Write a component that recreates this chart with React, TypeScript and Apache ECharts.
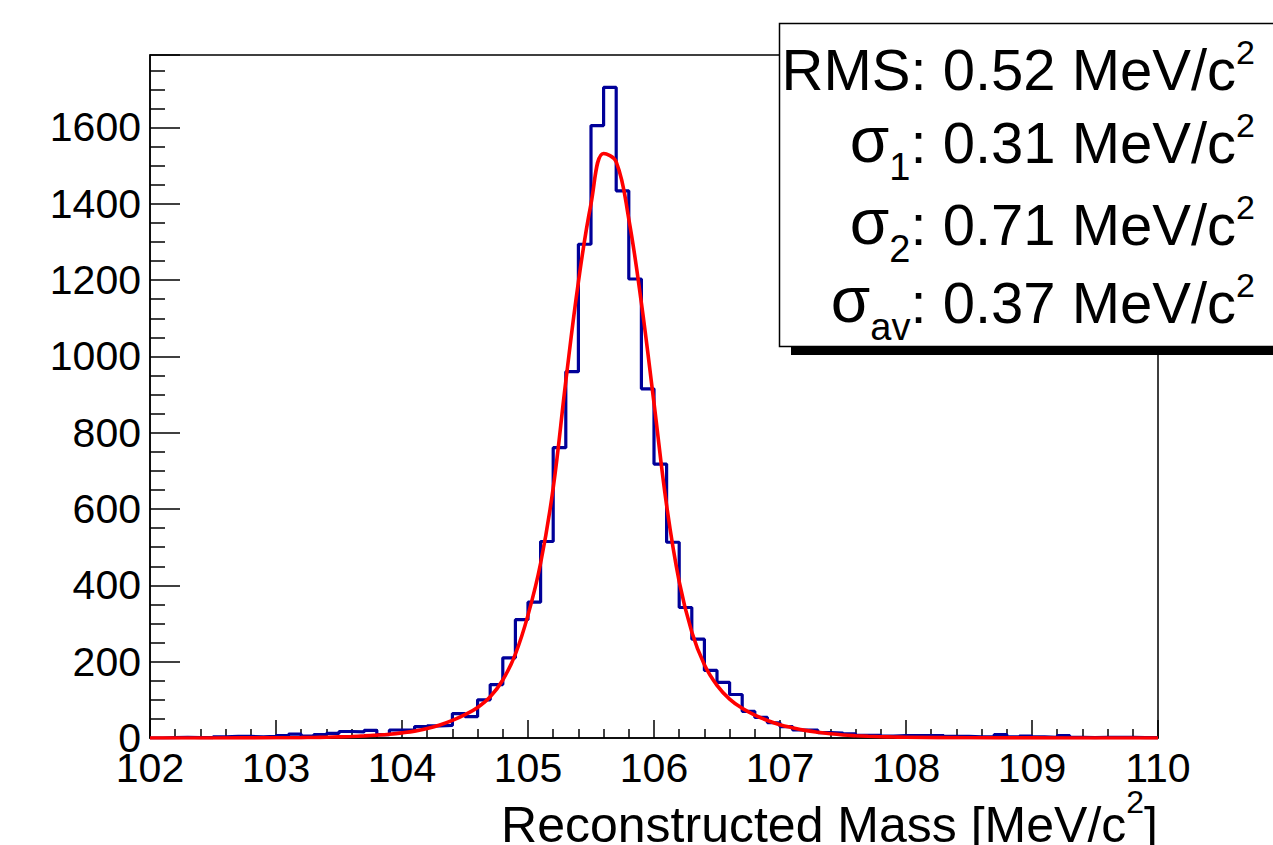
import React, { useEffect, useRef } from "react";
import * as echarts from "echarts";

const FONT = '"Liberation Sans", Arial, Helvetica, sans-serif';

const xMin = 102;
const xMax = 110;
const binWidth = 0.1;
const yMax = 1790;

// histogram bin contents, bins of 0.1 from 102.0 to 110.0
const counts = [
  0, 1, 2, 1, 1, 3, 4, 4, 3, 4,
  6, 10, 5, 9, 12, 17, 16, 20, 9, 21,
  21, 30, 32, 33, 64, 56, 100, 140, 210, 310,
  356, 515, 761, 960, 1294, 1605, 1705, 1434, 1203, 915,
  718, 513, 342, 259, 177, 146, 114, 70, 54, 40,
  30, 21, 21, 14, 13, 11, 7, 7, 5, 6,
  6, 6, 6, 4, 4, 3, 3, 9, 3, 5,
  3, 2, 6, 2, 1, 2, 2, 2, 1, 1,
];

// fitted curve
const fitX = [
  102.0, 102.5, 103.0, 103.1, 103.2, 103.3, 103.4, 103.5, 103.6, 103.7, 103.8, 103.9,
  104.0, 104.1, 104.2, 104.3, 104.4, 104.5, 104.6, 104.7, 104.8, 104.9,
  105.0, 105.1, 105.2, 105.3, 105.4, 105.5, 105.6, 105.7, 105.8, 105.9,
  106.0, 106.1, 106.2, 106.3, 106.4, 106.5, 106.6, 106.7, 106.8, 106.9,
  107.0, 107.1, 107.2, 107.3, 107.4, 107.5, 107.6, 107.7, 107.8, 107.9,
  108.0, 108.5, 109.0, 110.0,
];
const fitY = [
  0, 0.1, 0.5, 0.7, 1, 1.5, 2, 3, 4, 5.5, 7.5, 10,
  13.5, 18, 25, 34, 46, 61, 80, 108, 152, 220,
  322, 458, 655, 935, 1195, 1400, 1532, 1510, 1360, 1140,
  878, 610, 410, 278, 192, 138, 102, 78, 60, 46,
  35, 27, 20, 15, 11, 8, 6, 4.5, 3.3, 2.5,
  1.8, 0.5, 0.2, 0,
];

const statNames = ["RMS", "σ", "σ", "σ"];
const statSubs = ["", "1", "2", "av"];
const statValues = ["0.52", "0.31", "0.71", "0.37"];
const statUnit = "MeV/c";
const statBaselines = [90, 163, 245, 323];

const xTitle = "Reconstructed Mass [MeV/c";

export default function App() {
  const ref = useRef<HTMLDivElement>(null);
  useEffect(() => {
    if (!ref.current) return;
    const chart = echarts.init(ref.current, undefined, { renderer: "svg" });

    const histData: number[][] = counts.map((c, i) => [+(xMin + i * binWidth).toFixed(1), c]);
    histData.push([xMax, counts[counts.length - 1]]);
    const fitData = fitX.map((x, i) => [x, fitY[i]]);

    const mainF = 58;
    const supF = 34;
    const subF = 38;
    const sigF = 64;
    const rich: any = {
      m: { fontSize: mainF, lineHeight: mainF, fontFamily: FONT, fill: "#000", padding: [5, 0, 0, 0], verticalAlign: "top" },
      s: { fontSize: sigF, lineHeight: sigF, fontFamily: FONT, fill: "#000", padding: [0, 0, 0, 0], verticalAlign: "top" },
      sub: { fontSize: subF, lineHeight: subF, fontFamily: FONT, fill: "#000", padding: [40, 0, 0, 0], verticalAlign: "top" },
      sup: { fontSize: supF, lineHeight: supF, fontFamily: FONT, fill: "#000", padding: [0, 0, 0, 0], verticalAlign: "top" },
    };

    const statTexts = statNames.map((n, i) => {
      const head = statSubs[i] ? `{s|${n}}{sub|${statSubs[i]}}{m|: ` : `{m|${n}: `;
      const txt = `${head}${statValues[i]} ${statUnit}}{sup|2}`;
      return {
        type: "text",
        x: 1255,
        y: statBaselines[i] - 55,
        z: 102,
        style: {
          text: txt,
          rich,
          align: "right",
          verticalAlign: "top",
          textAlign: "right",
          textVerticalAlign: "top",
          fill: "#000",
          font: `${mainF}px ${FONT}`,
        },
      };
    });

    const tF = 50;
    const tRich: any = {
      m: { fontSize: tF, lineHeight: 44, fontFamily: FONT, fill: "#000", padding: [14, 0, 0, 0], verticalAlign: "top" },
      sup: { fontSize: 32, lineHeight: 32, fontFamily: FONT, fill: "#000", verticalAlign: "top" },
    };

    chart.setOption({
      animation: false,
      backgroundColor: "#fff",
      grid: {
        left: 150,
        right: 1273 - 1158,
        top: 55,
        bottom: 845 - 738,
        show: true,
        borderColor: "#000",
        borderWidth: 1.5,
        backgroundColor: "transparent",
        containLabel: false,
        outerBoundsMode: "none",
      },
      xAxis: {
        type: "value",
        min: xMin,
        max: xMax,
        interval: 1,
        axisLine: { show: true, lineStyle: { color: "#000", width: 1.5 } },
        axisTick: { show: true, inside: true, length: 18, lineStyle: { color: "#000", width: 1.5 } },
        minorTick: { show: true, splitNumber: 5, length: 9, lineStyle: { color: "#000", width: 1.5 } },
        splitLine: { show: false },
        minorSplitLine: { show: false },
        axisLabel: { color: "#000", fontSize: 41, fontFamily: FONT, margin: 9, formatter: (v: number) => String(v) },
      },
      yAxis: {
        type: "value",
        min: 0,
        max: yMax,
        interval: 200,
        axisLine: { show: true, lineStyle: { color: "#000", width: 1.5 } },
        axisTick: { show: true, inside: true, length: 30, lineStyle: { color: "#000", width: 1.5 } },
        minorTick: { show: true, splitNumber: 4, length: 15, lineStyle: { color: "#000", width: 1.5 } },
        splitLine: { show: false },
        minorSplitLine: { show: false },
        axisLabel: { color: "#000", fontSize: 41, fontFamily: FONT, margin: 9, showMaxLabel: false, formatter: (v: number) => String(v) },
      },
      series: [
        {
          type: "line",
          data: histData,
          step: "end",
          showSymbol: false,
          symbol: "none",
          lineStyle: { color: "#000099", width: 3.2 },
          z: 2,
          clip: true,
        },
        {
          type: "line",
          data: fitData,
          smooth: 0.4,
          showSymbol: false,
          symbol: "none",
          lineStyle: { color: "#ff0000", width: 3.6 },
          z: 3,
          clip: true,
        },
      ],
      graphic: [
        { type: "rect", z: 100, shape: { x: 791, y: 347, width: 500, height: 8 }, style: { fill: "#000" } },
        { type: "rect", z: 101, shape: { x: 779.5, y: 23.5, width: 520, height: 323 }, style: { fill: "#fff", stroke: "#000", lineWidth: 1.5 } },
        ...statTexts,
        {
          type: "text",
          x: 1158,
          y: 786,
          z: 102,
          style: {
            text: `{m|${xTitle}}{sup|2}{m|]}`,
            rich: tRich,
            align: "right",
            verticalAlign: "top",
            textAlign: "right",
            textVerticalAlign: "top",
            fill: "#000",
            font: `${tF}px ${FONT}`,
          },
        },
      ],
    });
    return () => chart.dispose();
  }, []);
  return <div ref={ref} style={{ position: "absolute", left: 0, top: 0, width: 1273, height: 845 }} />;
}
